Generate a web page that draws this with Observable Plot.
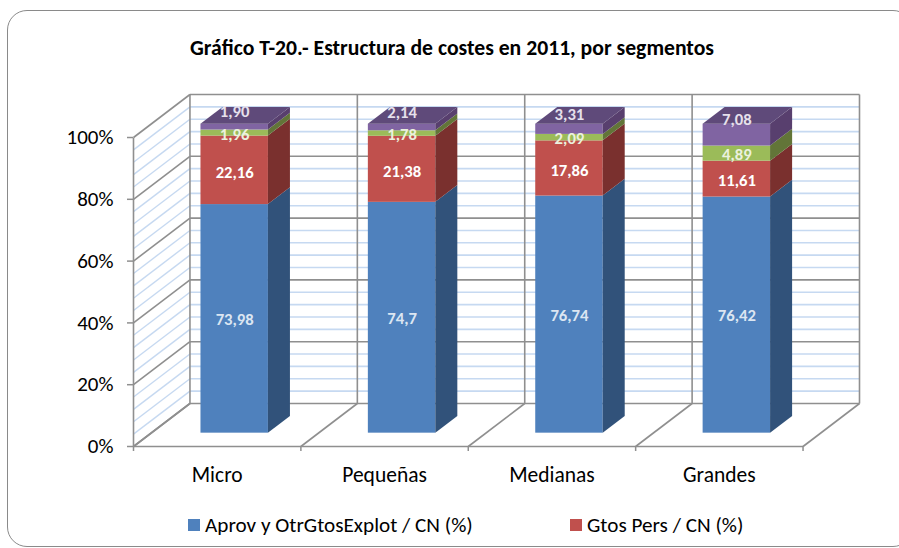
<!DOCTYPE html>
<html><head><meta charset="utf-8">
<script src="https://cdn.jsdelivr.net/npm/d3@7"></script>
<script src="https://cdn.jsdelivr.net/npm/@observablehq/plot@0.6"></script>
<style>
html,body{margin:0;padding:0;background:#fff;width:899px;height:548px;overflow:hidden;font-family:Carlito,Lato,sans-serif}
#frame{position:absolute;left:7px;top:10px;width:906px;height:537px;border:1.5px solid #8a8a8a;border-radius:20px;box-sizing:border-box}
#page{position:relative;width:899px;height:548px;overflow:hidden}
#title{position:relative;height:70px;box-sizing:border-box;padding-top:35px;margin-left:190px;font-weight:700;font-size:21.7px;line-height:26px;color:#000;white-space:nowrap}
#chart{position:relative;height:435px}
#chart svg{display:block}
#legend{position:relative;height:43px;font-size:21.2px;line-height:40px;color:#000;white-space:nowrap}
#legend span.i{position:absolute;top:0}
#legend i{position:absolute;top:14px;width:12px;height:12px}
</style></head><body>
<div id="page">
<div id="frame"></div>
<div id="title">Gráfico T-20.- Estructura de costes en 2011, por segmentos</div>
<div id="chart"></div>
<div id="legend"></div>
</div>
<script>
const categories = ["Micro", "Pequeñas", "Medianas", "Grandes"];
const aprov = [73.98, 74.7, 76.74, 76.42];
const gtosPers = [22.16, 21.38, 17.86, 11.61];
const third = [1.96, 1.78, 2.09, 4.89];
const fourth = [1.90, 2.14, 3.31, 7.08];
const aprovLabels = ["73,98", "74,7", "76,74", "76,42"];
const gtosLabels = ["22,16", "21,38", "17,86", "11,61"];
const thirdLabels = ["1,96", "1,78", "2,09", "4,89"];
const fourthLabels = ["1,90", "2,14", "3,31", "7,08"];
const yTicks = [0, 20, 40, 60, 80, 100];
const legendNames = ["Aprov y OtrGtosExplot / CN (%)", "Gtos Pers / CN (%)"];

const series = [
  {values: aprov, labels: aprovLabels, front: "#4F81BD", side: "#31527A", top: "#3E6797", text: "#DCE6F2", dy: 1},
  {values: gtosPers, labels: gtosLabels, front: "#C0504D", side: "#7A302E", top: "#96403D", text: "#FFFFFF", dy: 2},
  {values: third, labels: thirdLabels, front: "#9BBB59", side: "#627538", top: "#7A9447", text: "#EBF1DE", dy: 1.5},
  {values: fourth, labels: fourthLabels, front: "#8064A2", side: "#583F6E", top: "#5F4A7A", text: "#E6E0EC", dy: -15}
];

// oblique projection of the depth axis, in data units
const kx = 0.3373, ky = 13.92;
const dFront = 0.31, dBack = 0.70, barW = 0.403;
const px = (x, d) => x + d * kx;
const py = (y, d) => y + d * ky;

const fronts = [], sides = [], tops = [], labels = [];
categories.forEach((c, i) => {
  let base = 0;
  series.forEach((s, j) => {
    const y0 = base, y1 = base + s.values[i];
    base = y1;
    const l = i + 0.5 - barW / 2, r = i + 0.5 + barW / 2;
    const key = c + j;
    fronts.push({x1: px(l, dFront), x2: px(r, dFront), y1: py(y0, dFront), y2: py(y1, dFront), color: s.front});
    for (const d of [dFront, dBack]) sides.push({key, x: px(r, d), y1: py(y0, d), y2: py(y1, d), color: s.side});
    if (j === series.length - 1)
      for (const d of [dFront, dBack]) tops.push({key, y: py(y1, d), x1: px(l, d), x2: px(r, d), color: s.top});
    labels.push({j, x: px(i + 0.5, dFront), y: py((y0 + y1) / 2, dFront), t: s.labels[i]});
  });
});

const majorY = yTicks, minorY = d3.range(0, 101, 4).filter(v => v % 20 !== 0);
const bounds = d3.range(0, categories.length + 1);
const gray = "#8f8f8f", blue = "#C6D9F1";
const backLine = v => ({x1: px(0, 1), x2: px(4, 1), y1: py(v, 1), y2: py(v, 1)});
const sideLine = v => ({x1: px(0, 0), x2: px(0, 1), y1: py(v, 0), y2: py(v, 1)});

const plot = Plot.plot({
  width: 899, height: 435,
  marginLeft: 133, marginRight: 40, marginTop: 24, marginBottom: 59,
  x: {type: "linear", domain: [0, 4 + kx]},
  y: {type: "linear", domain: [0, 100 + ky]},
  color: {type: "identity"},
  style: {fontFamily: "Carlito, Lato, sans-serif", background: "transparent", overflow: "visible"},
  marks: [
    Plot.link(minorY.map(backLine), {x1: "x1", x2: "x2", y1: "y1", y2: "y2", stroke: blue, strokeWidth: 1.6}),
    Plot.link(minorY.map(sideLine), {x1: "x1", x2: "x2", y1: "y1", y2: "y2", stroke: blue, strokeWidth: 1.4}),
    Plot.link(majorY.map(backLine), {x1: "x1", x2: "x2", y1: "y1", y2: "y2", stroke: gray, strokeWidth: 1.6}),
    Plot.link(majorY.map(sideLine), {x1: "x1", x2: "x2", y1: "y1", y2: "y2", stroke: gray, strokeWidth: 1.6}),
    Plot.link(bounds, {x1: b => px(b, 1), x2: b => px(b, 1), y1: py(0, 1), y2: py(100, 1), stroke: gray, strokeWidth: 1.6}),
    Plot.link(bounds, {x1: b => px(b, 0), x2: b => px(b, 1), y1: py(0, 0), y2: py(0, 1), stroke: gray, strokeWidth: 1.6}),
    Plot.link([0], {x1: 0, x2: 4, y1: 0, y2: 0, stroke: gray, strokeWidth: 1.6}),
    Plot.link([0], {x1: 0, x2: 0, y1: 0, y2: 100, stroke: gray, strokeWidth: 1.6}),
    Plot.axisY({ticks: yTicks, tickFormat: d => d + "%", tickSize: 6, tickPadding: 14, fontSize: 21, stroke: gray, strokeWidth: 1.5, fill: "#000", label: null}),
    Plot.axisX({ticks: bounds, tickFormat: () => "", tickSize: 5, stroke: gray, strokeWidth: 1.5, label: null}),
    Plot.axisX({ticks: categories.map((c, i) => i + 0.5), tickFormat: v => categories[v - 0.5], tickSize: 0, tickPadding: 20, fontSize: 21.5, fill: "#000", label: null}),
    Plot.rect(fronts, {x1: "x1", x2: "x2", y1: "y1", y2: "y2", fill: "color"}),
    Plot.areaY(sides, {x: "x", y1: "y1", y2: "y2", z: "key", fill: "color"}),
    Plot.areaX(tops, {y: "y", x1: "x1", x2: "x2", z: "key", fill: "color"}),
    ...series.map((s, j) => Plot.text(labels.filter(d => d.j === j), {
      x: "x", y: "y", text: "t", fill: s.text, fontWeight: 700, fontSize: 16.7, dy: s.dy
    }))
  ]
});
document.getElementById("chart").appendChild(plot);

const legend = document.getElementById("legend");
const legendX = [188, 570];
legendNames.forEach((n, i) => {
  const sw = document.createElement("i");
  sw.style.left = legendX[i] + "px";
  sw.style.background = series[i].front;
  legend.appendChild(sw);
  const t = document.createElement("span");
  t.className = "i";
  t.style.left = (legendX[i] + 17) + "px";
  t.textContent = n;
  legend.appendChild(t);
});
</script>
</body></html>
